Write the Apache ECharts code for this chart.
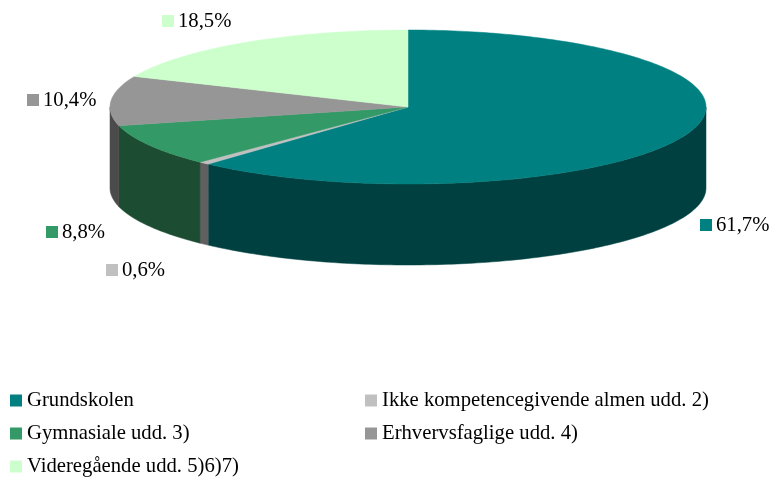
<!DOCTYPE html>
<html>
<head>
<meta charset="utf-8">
<script src="https://cdn.jsdelivr.net/npm/echarts@6/dist/echarts.min.js"></script>
<style>
html,body{margin:0;padding:0;background:#fff;}
#chart{width:771px;height:477px;}
</style>
</head>
<body>
<div id="chart"></div>
<script>
// ---- data ----
const categories = ['Grundskolen', 'Ikke kompetencegivende almen udd. 2)', 'Gymnasiale udd. 3)', 'Erhvervsfaglige udd. 4)', 'Videregående udd. 5)6)7)'];
const values = [61.7, 0.6, 8.8, 10.4, 18.5];
const valueLabels = ['61,7%', '0,6%', '8,8%', '10,4%', '18,5%'];

// ---- styles ----
const topColors = ['#008080', '#C0C0C0', '#339966', '#969696', '#CCFFCC'];
const sideColors = ['#004040', '#606060', '#1c4d33', '#4b4b4b', '#668066'];
const labelAnchors = [[700, 225], [106, 270], [46, 232], [27, 100], [162, 21]];
const geo = { cx: 408, cy: 107, rx: 298, ry: 77, depth: 81 };
const FONT = '"Liberation Serif", "DejaVu Serif", serif';
const FS = 20.7;

const total = values.reduce((a, b) => a + b, 0);

function pt(theta, dy) {
  const r = theta * Math.PI / 180;
  return [geo.cx + geo.rx * Math.sin(r), geo.cy - geo.ry * Math.cos(r) + (dy || 0)];
}
function arc(a0, a1, dy) {
  const pts = [];
  const n = Math.max(2, Math.ceil(Math.abs(a1 - a0)));
  for (let k = 0; k <= n; k++) pts.push(pt(a0 + (a1 - a0) * k / n, dy));
  return pts;
}

function makeRender(idx) {
  return function (params, api) {
    const v = api.value(0);
    let before = 0;
    for (let j = 0; j < idx; j++) before += values[j];
    const a0 = before / total * 360;
    const a1 = a0 + v / total * 360;
    const children = [];
    // front wall (visible part: lower half of ellipse, 90..270 degrees)
    const w0 = Math.max(a0, 90), w1 = Math.min(a1, 270);
    if (w1 > w0) {
      const top = arc(w0, w1, 0);
      const bot = arc(w1, w0, geo.depth);
      children.push({
        type: 'polygon',
        shape: { points: top.concat(bot) },
        style: { fill: sideColors[idx], stroke: sideColors[idx], lineWidth: 0.5 }
      });
    }
    // top face
    children.push({
      type: 'polygon',
      shape: { points: [[geo.cx, geo.cy]].concat(arc(a0, a1, 0)) },
      style: { fill: topColors[idx], stroke: topColors[idx], lineWidth: 0.5 }
    });
    // data label
    const la = labelAnchors[idx];
    children.push({
      type: 'rect',
      shape: { x: la[0], y: la[1] - 6, width: 12, height: 12 },
      style: { fill: topColors[idx] }
    });
    children.push({
      type: 'text',
      x: la[0] + 16, y: la[1] + 1,
      style: { text: valueLabels[idx], fill: '#000', font: FS + 'px ' + FONT, textVerticalAlign: 'middle', textAlign: 'left' }
    });
    return { type: 'group', children: children };
  };
}

const series = categories.map((name, i) => ({
  type: 'custom',
  name: name,
  coordinateSystem: 'none',
  itemStyle: { color: topColors[i] },
  data: [[values[i]]],
  renderItem: makeRender(i),
  animation: false,
  silent: true
}));

const legendCommon = {
  orient: 'vertical',
  icon: 'rect',
  itemWidth: 12,
  itemHeight: 12,
  itemGap: 12,
  padding: 0,
  textStyle: { fontFamily: FONT, fontSize: FS, color: '#000', padding: [0, 0, 0, 0] },
  selectedMode: false
};

const option = {
  backgroundColor: '#fff',
  animation: false,
  legend: [
    Object.assign({}, legendCommon, { left: 10, top: 390, data: [categories[0], categories[2], categories[4]] }),
    Object.assign({}, legendCommon, { left: 365, top: 390, data: [categories[1], categories[3]] })
  ],
  series: series
};

const chart = echarts.init(document.getElementById('chart'), null, { renderer: 'canvas' });
chart.setOption(option);
</script>
</body>
</html>
